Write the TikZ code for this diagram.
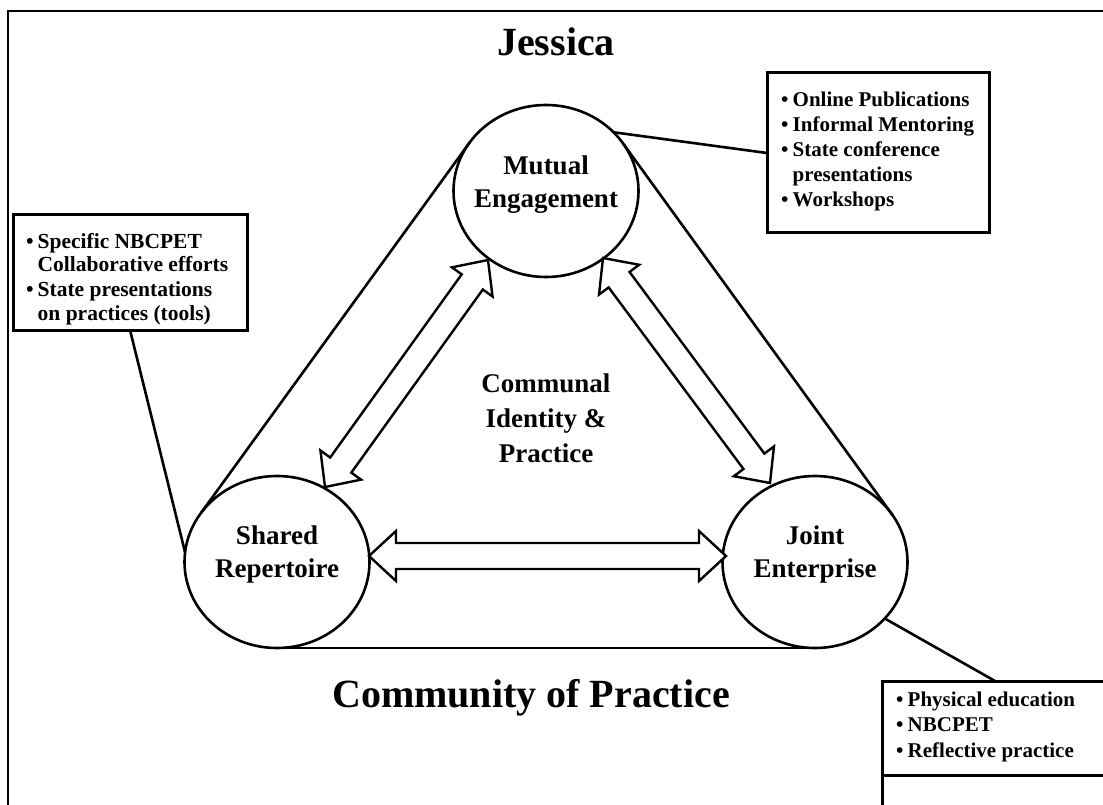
\documentclass[tikz,border=0pt]{standalone}
\usepackage{fontspec}
\setmainfont{Liberation Serif}
\usetikzlibrary{calc,shapes.geometric}

\newcommand\bul{\makebox[11.5pt][l]{\textbullet}}
\newcommand\ind{\hspace*{11.5pt}}
% hollow double-headed block arrow between two tip points
\newcommand\blockarrow[2]{%
  \draw[hollow] (#1) -- ($(#1)!36.8pt!42.8:(#2)$) -- ($(#1)!29.97pt!25.7:(#2)$)
    -- ($(#2)!29.97pt!-25.7:(#1)$) -- ($(#2)!36.8pt!-42.8:(#1)$) -- (#2)
    -- ($(#2)!36.8pt!42.8:(#1)$) -- ($(#2)!29.97pt!25.7:(#1)$)
    -- ($(#1)!29.97pt!-25.7:(#2)$) -- ($(#1)!36.8pt!-42.8:(#2)$) -- cycle;}

\begin{document}
\begin{tikzpicture}[x=1pt,y=-1pt,
  rim/.style={draw, line width=2.8pt},
  hub/.style={ellipse, draw, line width=2.6pt, minimum width=185pt, minimum height=172pt, inner sep=0pt, outer sep=0pt},
  hublabel/.style={anchor=base, inner sep=0pt, font=\bfseries\fontsize{27}{33}\selectfont},
  link/.style={line width=2.6pt},
  note/.style={draw, line width=3pt, inner sep=0pt, outer sep=0pt, anchor=north west},
  item/.style={anchor=base west, inner sep=0pt, font=\bfseries\fontsize{21}{25}\selectfont},
  itemL/.style={item, font=\bfseries\fontsize{21.5}{24}\selectfont},
  title/.style={anchor=base, inner sep=0pt, font=\bfseries\fontsize{40}{48}\selectfont},
  hollow/.style={draw, line width=2.4pt, fill=white, line join=miter}]

\useasboundingbox (0,0) rectangle (1103,805);
\clip (0,0) rectangle (1103,805);

% outer frame (only top and left edges fall inside the page)
\coordinate (fTL) at (8,11);
\coordinate (fTR) at (1110,11);
\coordinate (fBL) at (8,812);
\draw[rim] (fTR) -- (fTL) -- (fBL);

% the three hubs
\node[hub] (M) at (546,191) {};
\node[hub] (S) at (277,562) {};
\node[hub] (J) at (815,562) {};

\node[hublabel] (m1) at (546,175) {Mutual};
\node[hublabel] (m2) at (546,208) {Engagement};
\node[hublabel] (s1) at (277,544) {Shared};
\node[hublabel] (s2) at (277,577) {Repertoire};
\node[hublabel] (j1) at (815,544) {Joint};
\node[hublabel] (j2) at (815,577) {Enterprise};

% tangent triangle
\draw[link] (S.147.9) -- (M.147.9);
\draw[link] (M.31.8) -- (J.31.8);
\draw[link] (S.south) -- (J.south);

% centre label
\node[hublabel] (c1) at (546,392) {Communal};
\node[hublabel] (c2) at (546,427) {Identity \&};
\node[hublabel] (c3) at (546,462) {Practice};

% double block arrows
\coordinate (aMS) at (488,260);
\coordinate (aSM) at (325,487);
\coordinate (aMJ) at (603,258);
\coordinate (aJM) at (770,483);
\coordinate (aSJ) at (369,556);
\coordinate (aJS) at (726,556);
\blockarrow{aMS}{aSM}
\blockarrow{aMJ}{aJM}
\blockarrow{aSJ}{aJS}

% titles
\node[title] (who) at (556,56) {Jessica};
\node[title] (cop) at (531,707) {Community of Practice};

% callout boxes
\node[note, minimum width=222pt, minimum height=160pt] (B1) at (767,73) {};
\foreach \t [count=\i] in {{\bul Online Publications},{\bul Informal Mentoring},{\bul State conference},{\ind presentations},{\bul Workshops}}
  \node[item] (b1l\i) at (781,106.5+25*\i-25) {\t};

\node[note, minimum width=234pt, minimum height=115pt] (B2) at (13,215) {};
\foreach \t [count=\i] in {{\bul Specific NBCPET},{\ind Collaborative efforts},{\bul State presentations},{\ind on practices (tools)}}
  \node[itemL] (b2l\i) at (26,248+24*\i-24) {\t};

\node[note, minimum width=226pt, minimum height=94pt] (B3) at (882,681) {};
\node[note, minimum width=226pt, minimum height=60pt] (B4) at (882,775) {};
\foreach \t [count=\i] in {{\bul Physical education},{\bul NBCPET},{\bul Reflective practice}}
  \node[item] (b3l\i) at (896,706+25.5*\i-25.5) {\t};

% callout leaders
\draw[link] (M.41.5) -- (B1.west);
\draw[link] (B2.south) -- (S.174);
\draw[link] (J.-39.4) -- (B3.north);

\end{tikzpicture}
\end{document}
